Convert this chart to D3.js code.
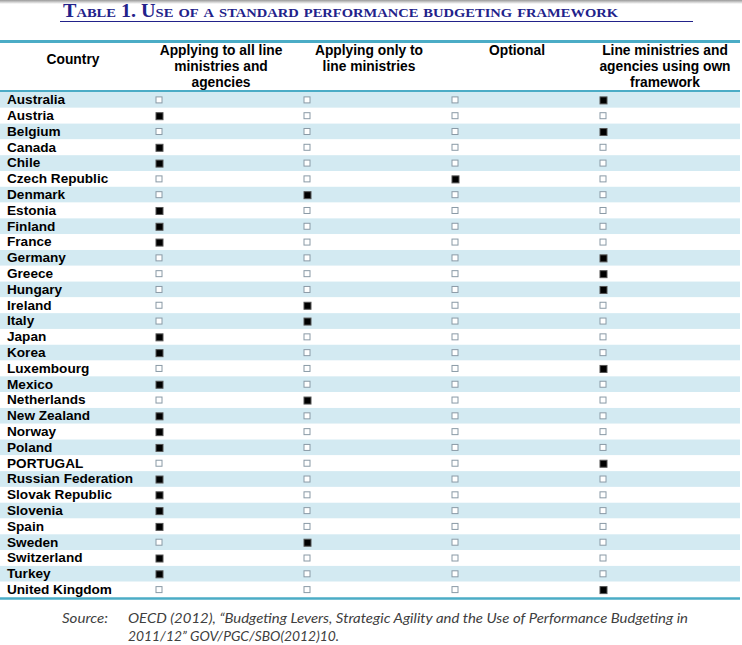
<!DOCTYPE html>
<html><head><meta charset="utf-8">
<script src="https://cdn.jsdelivr.net/npm/d3@7"></script>
<style>
html,body{margin:0;padding:0;background:#fff;}
svg{display:block;}
</style></head>
<body>
<svg id="chart" width="742" height="645"></svg>
<script>
const title = "Table 1. Use of a standard performance budgeting framework";
const columns = ["Country", "Applying to all line ministries and agencies", "Applying only to line ministries", "Optional", "Line ministries and agencies using own framework"];
const headerLines = [["Country"], ["Applying to all line", "ministries and", "agencies"], ["Applying only to", "line ministries"], ["Optional"], ["Line ministries and", "agencies using own", "framework"]];
const countries = ["Australia","Austria","Belgium","Canada","Chile","Czech Republic","Denmark","Estonia","Finland","France","Germany","Greece","Hungary","Ireland","Italy","Japan","Korea","Luxembourg","Mexico","Netherlands","New Zealand","Norway","Poland","PORTUGAL","Russian Federation","Slovak Republic","Slovenia","Spain","Sweden","Switzerland","Turkey","United Kingdom"];
// index (1-4) of the column that is marked for each country
const selected = [4,1,4,1,1,3,2,1,1,1,4,4,4,2,2,1,1,4,1,2,1,1,1,4,1,1,1,1,2,1,1,4];
const sourceLabel = "Source:";
const sourceLines = ["OECD (2012), \u201cBudgeting Levers, Strategic Agility and the Use of Performance Budgeting in", "2011/12\u201d GOV/PGC/SBO(2012)10."];

const svg = d3.select("#chart");
const teal = "#4BACC6", band = "#D3EAF2", navy = "#22228A";

// top gray shading
const defs = svg.append("defs");
const g = defs.append("linearGradient").attr("id","topg").attr("x1",0).attr("x2",0).attr("y1",0).attr("y2",1);
g.append("stop").attr("offset",0).attr("stop-color","#9a9a9a");
g.append("stop").attr("offset",1).attr("stop-color","#ffffff");
svg.append("rect").attr("x",0).attr("y",0).attr("width",742).attr("height",4).attr("fill","url(#topg)");

// title
svg.append("text").attr("x",63).attr("y",16.5)
  .attr("font-family","'Liberation Serif', 'DejaVu Serif', serif")
  .attr("font-weight","bold").attr("font-size",18).attr("fill",navy)
  .style("font-variant","small-caps")
  .attr("textLength",555).attr("lengthAdjust","spacingAndGlyphs")
  .text(title);
svg.append("line").attr("x1",60).attr("x2",693).attr("y1",21.5).attr("y2",21.5).attr("stroke",navy).attr("stroke-width",1);

const x = d3.scaleBand().domain(columns).range([0,740]);
const y = d3.scaleBand().domain(countries).range([92,597.5]);

// row bands
svg.append("g").selectAll("rect").data(countries).join("rect")
  .attr("x",0).attr("width",740).attr("y",d=>y(d)).attr("height",y.bandwidth())
  .attr("fill",(d,i)=> i%2===0 ? band : "#fff");

// lines
svg.append("line").attr("x1",0).attr("x2",740).attr("y1",41.5).attr("y2",41.5).attr("stroke",teal).attr("stroke-width",3);
svg.append("line").attr("x1",0).attr("x2",740).attr("y1",91).attr("y2",91).attr("stroke",teal).attr("stroke-width",2);
svg.append("line").attr("x1",0).attr("x2",740).attr("y1",598.5).attr("y2",598.5).attr("stroke",teal).attr("stroke-width",2.5);

// header
const hdr = svg.append("g").attr("font-family","'Liberation Sans', Arial, sans-serif").attr("font-weight","bold").attr("font-size",13.8).attr("fill","#000").attr("text-anchor","middle");
columns.forEach((c,ci)=>{
  const lines = headerLines[ci];
  const base = ci===0 ? 64 : 55;
  lines.forEach((l,li)=>{
    hdr.append("text").attr("x", x(c)+x.bandwidth()/2 - 1).attr("y", base + li*16).text(l);
  });
});

// country names
svg.append("g").selectAll("text").data(countries).join("text")
  .attr("x",7).attr("y",d=>y(d)+y.bandwidth()/2+4.3)
  .attr("font-family","'Liberation Sans', Arial, sans-serif").attr("font-weight","bold").attr("font-size",13.6)
  .text(d=>d);

// markers
const cells = [];
countries.forEach((c,i)=>{ for(let k=1;k<=4;k++) cells.push({c, col:columns[k], on: selected[i]===k}); });
svg.append("g").selectAll("rect").data(cells).join("rect")
  .attr("x",d=>x(d.col)+8).attr("y",d=>y(d.c)+y.bandwidth()/2-3)
  .attr("width",d=>d.on ? 7 : 6).attr("height",d=>d.on ? 7 : 6)
  .attr("fill",d=>d.on ? "#000" : "#fff")
  .attr("stroke",d=>d.on ? "#555" : "#8a9aa6").attr("stroke-width",1);

// source
const src = svg.append("g").attr("font-family","Lato, 'Open Sans', sans-serif").attr("font-style","italic").attr("font-size",14.3).attr("fill","#404040");
src.append("text").attr("x",62).attr("y",623).attr("textLength",46).attr("lengthAdjust","spacingAndGlyphs").text(sourceLabel);
src.append("text").attr("x",128).attr("y",623).attr("textLength",560).attr("lengthAdjust","spacingAndGlyphs").text(sourceLines[0]);
src.append("text").attr("x",128).attr("y",641).attr("textLength",211).attr("lengthAdjust","spacingAndGlyphs").text(sourceLines[1]);
</script>
</body></html>
